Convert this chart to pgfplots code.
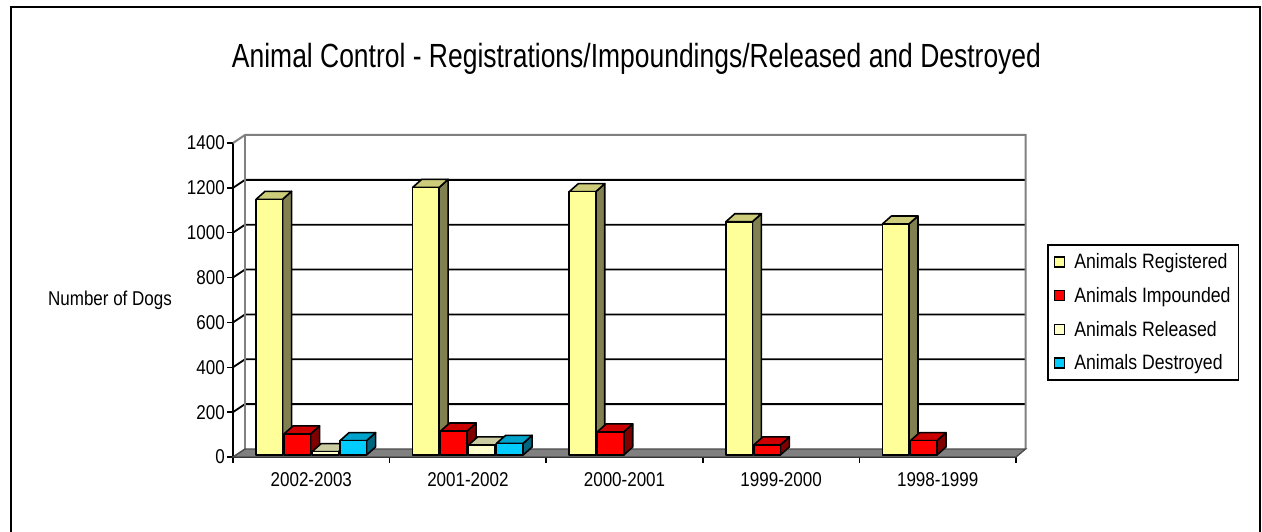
\documentclass[border=0pt]{standalone}
\usepackage{fontspec}
\setmainfont{Liberation Sans}[FakeStretch=0.85]
\newfontfamily\titlefont{Liberation Sans}[FakeStretch=0.79]
\usepackage{pgfplots}
\usepackage{pgfplotstable}
\pgfplotsset{compat=1.18}

\definecolor{regF}{HTML}{FFFF99}\definecolor{regT}{HTML}{CCCC7A}\definecolor{regS}{HTML}{808050}
\definecolor{impF}{HTML}{FF0000}\definecolor{impT}{HTML}{CC0000}\definecolor{impS}{HTML}{800000}
\definecolor{relF}{HTML}{FFFFCC}\definecolor{relT}{HTML}{CCCCA3}\definecolor{relS}{HTML}{808066}
\definecolor{desF}{HTML}{00CCFF}\definecolor{desT}{HTML}{00A3CC}\definecolor{desS}{HTML}{006680}

% x = category position, values per series (nan = no bar)
\pgfplotstableread{
x   reg   imp  rel  des
0.5 1140  94   15   64
1.5 1193  107  45   52
2.5 1174  103  nan  nan
3.5 1040  45   nan  nan
4.5 1030  64   nan  nan
}\dogdata

\pgfplotsset{
  box3d/.style n args={3}{% front, top, side colours
    only marks, scatter, mark=text, text mark={}, forget plot,
    visualization depends on={rawy \as \hv},
    scatter/@pre marker code/.code={%
      \pgfmathsetmacro\hh{\hv*0.22429}%
      \filldraw[fill=#3,draw=black,line width=1.6pt,line join=round]
        (13.25pt,0pt) -- ++(9pt,8pt) -- ++(0pt,-\hh pt) -- ++(-9pt,-8pt) -- cycle;
      \filldraw[fill=#2,draw=black,line width=1.6pt,line join=round]
        (-13.25pt,0pt) -- (13.25pt,0pt) -- (22.25pt,8pt) -- (-4.25pt,8pt) -- cycle;
      \filldraw[fill=#1,draw=black,line width=1.6pt,line join=round]
        (-13.25pt,-\hh pt) rectangle (13.25pt,0pt);
    },
    scatter/@post marker code/.code={},
  },
  sqimg/.style={legend image code/.code={%
      \draw[fill=#1,draw=black,line width=1.4pt] (0pt,-5pt) rectangle (10pt,5pt);}},
}

\begin{document}
\begin{tikzpicture}
\useasboundingbox (0,0) rectangle (1262pt,531pt);
\draw[line width=2.5pt] (11pt,-10pt) -- (11pt,524pt) -- (1260pt,524pt) -- (1260pt,-10pt);

\node[font=\titlefont\fontsize{33.5}{40}\selectfont] at (636.5pt,472pt)
  {Animal Control - Registrations/Impoundings/Released and Destroyed};
\node[font=\fontsize{20}{24}\selectfont] at (110pt,231pt) {Number of Dogs};

\begin{axis}[
  at={(233pt,74pt)}, anchor=origin,
  x=156.6pt, y=0.22429pt,
  xmin=0, xmax=5, ymin=0, ymax=1400,
  clip=false,
  axis lines*=left,
  axis line style={black, line width=1.8pt},
  tick align=outside,
  tick style={black, line width=1.5pt},
  major tick length=6pt,
  ytick={0,200,...,1400},
  xtick={0,1,2,3,4,5}, xticklabels={},
  extra x ticks={0.5,1.5,2.5,3.5,4.5},
  extra x tick labels={2002-2003,2001-2002,2000-2001,1999-2000,1998-1999},
  extra x tick style={major tick length=0pt, xticklabel style={anchor=base, yshift=-29pt}},
  /pgf/number format/assume math mode=true,
  /pgf/number format/1000 sep={},
  tick label style={font=\fontsize{20}{24}\selectfont},
  yticklabel style={inner xsep=2pt},
  legend style={at={(axis description cs:1.0396,0.6783)}, anchor=north west,
    draw=black, line width=1.8pt, font=\fontsize{20.8}{25}\selectfont,
    inner xsep=6pt, inner ysep=7pt, row sep=13pt, column sep=7pt,
    nodes={inner sep=2pt}},
  legend cell align=left,
]
% back wall
\fill[white] ([shift={(12pt,8pt)}]axis cs:0,0) rectangle ([shift={(9.5pt,8pt)}]axis cs:5,1400);
% gridlines on left wall and back wall
\pgfplotsinvokeforeach{200,400,600,800,1000,1200}{
  \draw[black, line width=1.8pt] (axis cs:0,#1) -- ([shift={(12pt,8pt)}]axis cs:0,#1)
     -- ([shift={(9.5pt,8pt)}]axis cs:5,#1);
}
\draw[gray, line width=2pt] (axis cs:0,1400) -- ([shift={(12pt,8pt)}]axis cs:0,1400)
   -- ([shift={(9.5pt,8pt)}]axis cs:5,1400) -- ([shift={(9.5pt,8pt)}]axis cs:5,0);
\draw[gray, line width=1.6pt] ([shift={(12pt,8pt)}]axis cs:0,1400) -- ([shift={(12pt,8pt)}]axis cs:0,0);
% floor
\filldraw[fill=gray, draw=gray!60!black, line width=1.4pt]
  (axis cs:0,0) -- (axis cs:5,0) -- ([shift={(9.5pt,8pt)}]axis cs:5,0)
  -- ([shift={(12pt,8pt)}]axis cs:0,0) -- cycle;

\addplot[box3d={regF}{regT}{regS}, xshift=-42pt, yshift=2pt] table[x=x,y=reg] {\dogdata};
\addplot[box3d={impF}{impT}{impS}, xshift=-14pt, yshift=2pt] table[x=x,y=imp] {\dogdata};
\addplot[box3d={relF}{relT}{relS}, xshift=14pt, yshift=2pt] table[x=x,y=rel] {\dogdata};
\addplot[box3d={desF}{desT}{desS}, xshift=42pt, yshift=2pt] table[x=x,y=des] {\dogdata};

\addlegendimage{sqimg=regF}\addlegendentry{Animals Registered}
\addlegendimage{sqimg=impF}\addlegendentry{Animals Impounded}
\addlegendimage{sqimg=relF}\addlegendentry{Animals Released}
\addlegendimage{sqimg=desF}\addlegendentry{Animals Destroyed}
\end{axis}
\end{tikzpicture}
\end{document}
